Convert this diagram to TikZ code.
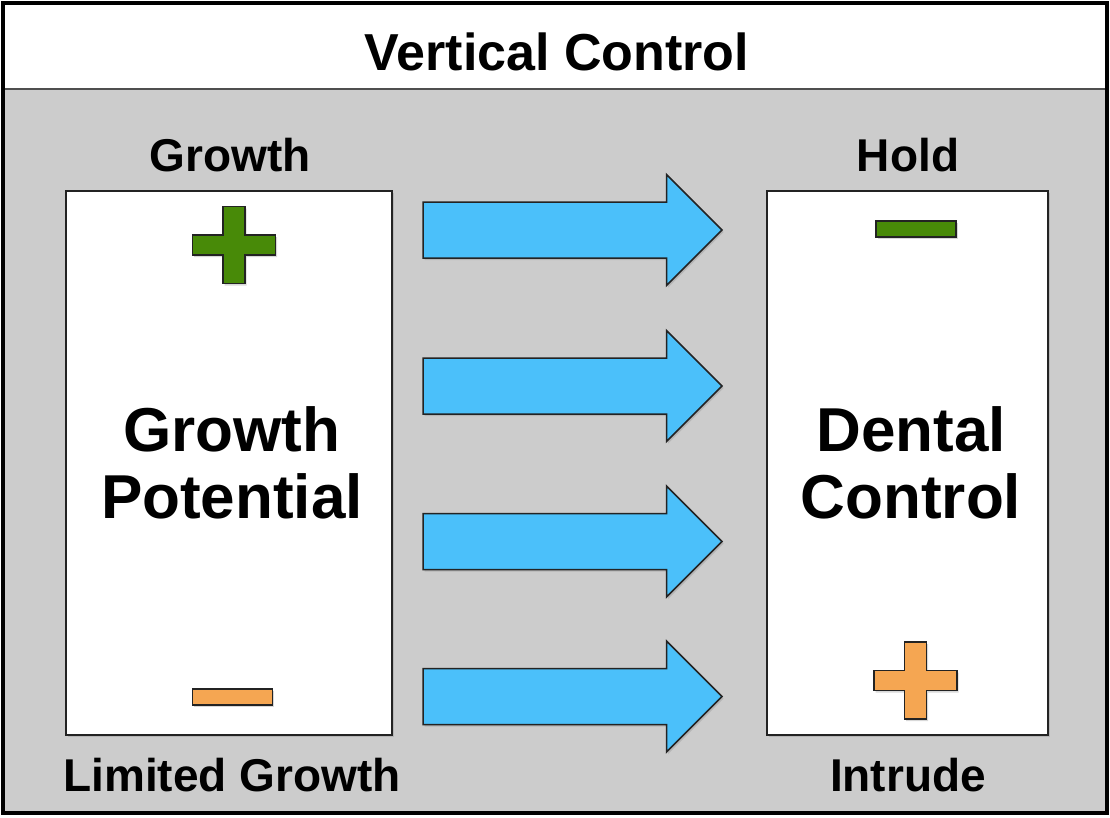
\documentclass[tikz,border=0pt]{standalone}
\usepackage{fontspec}
\setmainfont{Liberation Sans}
\usetikzlibrary{shadows}
\definecolor{panelgray}{RGB}{204,204,204}
\definecolor{arrowblue}{RGB}{75,192,250}
\definecolor{signgreen}{RGB}{72,138,8}
\definecolor{signorange}{RGB}{245,166,82}
\definecolor{edgegray}{RGB}{35,35,35}
\begin{document}
\begin{tikzpicture}[x=1pt,y=-1pt,
  lbl/.style={font=\fontsize{46}{50}\selectfont\bfseries, inner sep=0pt},
  ttl/.style={font=\fontsize{52}{58}\selectfont\bfseries, inner sep=0pt},
  big/.style={font=\fontsize{62}{67}\selectfont\bfseries, align=center, inner sep=0pt},
  softshadow/.style={drop shadow={opacity=0.3, shadow xshift=1.5pt, shadow yshift=-2pt}},
  panel/.style={draw=edgegray, line width=1.5pt, fill=white, softshadow, inner sep=0pt},
  sign/.style={draw=edgegray, line width=1.8pt, line join=miter, softshadow},
  barrow/.style={draw=edgegray, line width=1.5pt, fill=arrowblue, line join=miter, softshadow},
  pics/plussign/.style={code={
    \path[sign, fill=#1] (-11,-38.5) -- (11,-38.5) -- (11,-10) -- (41.5,-10)
      -- (41.5,10) -- (11,10) -- (11,38.5) -- (-11,38.5) -- (-11,10)
      -- (-41.5,10) -- (-41.5,-10) -- (-11,-10) -- cycle;}},
  pics/minussign/.style={code={
    \path[sign, fill=#1] (-40,-8) rectangle (40,8);}},
  pics/blockarrow/.style={code={
    \path[barrow] (-149.5,-28) -- (94,-28) -- (94,-55.5) -- (149.5,0)
      -- (94,55.5) -- (94,28) -- (-149.5,28) -- cycle;}}
]
\useasboundingbox (0,0) rectangle (1110,817);

% frame: white title band over a grey body
\fill[white] (3,3) rectangle (1107,89);
\fill[panelgray] (3,89) rectangle (1107,813);
\draw[edgegray!80, line width=2pt] (3,89) -- (1107,89);
\draw[black, line width=4pt] (3,3) rectangle (1107,813);
\node[ttl] (title) at (557,52) {Vertical Control};

% the two panels
\node[panel, minimum width=326pt, minimum height=544pt] (gp) at (229,463) {};
\node[panel, minimum width=281pt, minimum height=544pt] (dc) at (907.5,463) {};

\node[big] (gptext) at (232,463) {Growth\\Potential};
\node[big] (dctext) at (911,463) {Dental\\Control};

% labels above and below the panels
\node[lbl] (growth) at (230,155) {Growth};
\node[lbl] (limited) at (232,775) {Limited Growth};
\node[lbl] (hold) at (908,155) {Hold};
\node[lbl] (intrude) at (908,775) {Intrude};

% signs
\pic at (234,245) {plussign=signgreen};
\pic at (232.5,697) {minussign=signorange};
\pic at (916,229) {minussign=signgreen};
\pic at (915.5,680.5) {plussign=signorange};

% block arrows
\pic at (572.5,230) {blockarrow};
\pic at (572.5,386) {blockarrow};
\pic at (572.5,541.5) {blockarrow};
\pic at (572.5,696.5) {blockarrow};
\end{tikzpicture}
\end{document}
